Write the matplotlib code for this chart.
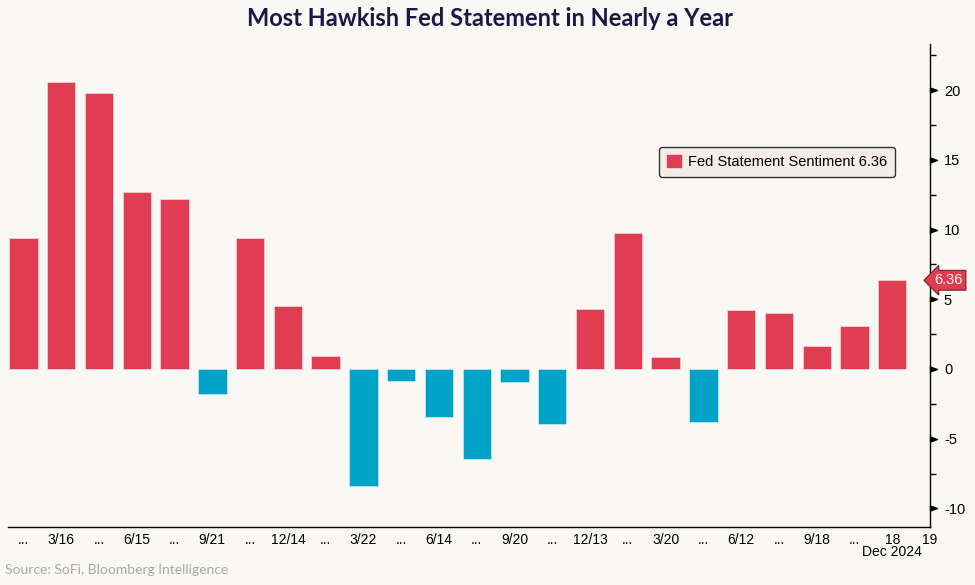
import matplotlib.pyplot as plt
import numpy as np
from matplotlib.patches import Patch
from matplotlib.path import Path

# ── Data ──────────────────────────────────────────────────────────────────────
LABELS = ["...", "3/16", "...", "6/15", "...", "9/21", "...", "12/14",
          "...", "3/22", "...", "6/14", "...", "9/20", "...", "12/13",
          "...", "3/20", "...", "6/12", "...", "9/18", "...", "18", "19"]
SENTIMENT = [9.38, 20.54, 19.80, 12.67, 12.17, -1.82, 9.38, 4.54,
             0.95, -8.37, -0.88, -3.47, -6.43, -0.93, -3.92, 4.33,
             9.76, 0.83, -3.78, 4.25, 4.02, 1.67, 3.06, 6.36]
LAST_VALUE = 6.36
Y_MAJOR = [-10, -5, 0, 5, 10, 15, 20]
Y_MINOR = [-7.5, -2.5, 2.5, 7.5, 12.5, 17.5, 22.5]

# ── Palette ───────────────────────────────────────────────────────────────────
RED = "#e03c52"
BLUE = "#00a3c8"
BG = "#f9f8f5"
TITLE_C = "#1c1846"
SOURCE_C = "#a8a8a8"
TICK_FONT = ["Liberation Sans", "DejaVu Sans"]

fig = plt.figure(figsize=(9.75, 5.85), dpi=100, facecolor=BG)
ax = fig.add_axes([8 / 975, 1 - 527 / 585, 922 / 975, 483 / 585], facecolor=BG)

x = np.arange(len(SENTIMENT))
vals = np.array(SENTIMENT)
colors = [RED if v >= 0 else BLUE for v in vals]
ax.bar(x, vals, width=0.75, color=colors, edgecolor=[(1, 1, 1, 0.5)] * len(vals),
       linewidth=0.6)

ax.set_xlim(-0.41, len(LABELS) - 1)
ax.set_ylim(-11.33, 23.3)

# spines
for s in ("left", "top"):
    ax.spines[s].set_visible(False)
for s in ("right", "bottom"):
    ax.spines[s].set_color("black")
    ax.spines[s].set_linewidth(1.0)

# x ticks: major at odd slots (the "..." ones), minor at the others
ax.set_xticks(np.arange(len(LABELS)), LABELS, fontsize=10, family=TICK_FONT)
ax.tick_params(axis="x", length=0, pad=4)
ax.set_xticks(np.arange(0, len(LABELS), 2), minor=True)
ax.tick_params(axis="x", which="minor", length=4, width=1, direction="inout",
               color="black")
ax.text(23, -0.038, "Dec 2024", transform=ax.get_xaxis_transform(),
        ha="center", va="top", fontsize=10, family=TICK_FONT)

# y ticks on the right with triangle markers for majors
ax.yaxis.tick_right()
ax.set_yticks(Y_MAJOR, [str(v) for v in Y_MAJOR], fontsize=10.5, family=TICK_FONT)
ax.tick_params(axis="y", length=0, pad=10)
ax.set_yticks(Y_MINOR, minor=True)
ax.tick_params(axis="y", which="minor", length=4, width=1, color="black")
tri = Path([(0, -0.35), (1, 0), (0, 0.35), (0, -0.35)],
           [Path.MOVETO, Path.LINETO, Path.LINETO, Path.CLOSEPOLY])
ax.plot(np.ones(len(Y_MAJOR)), Y_MAJOR, transform=ax.get_yaxis_transform(),
        ls="none", marker=tri, ms=10, color="black", clip_on=False)

# last value tag
ax.text(1.005, LAST_VALUE, f"{LAST_VALUE:.2f}", transform=ax.get_yaxis_transform(),
        ha="left", va="center", fontsize=10.5, color="white", family=TICK_FONT,
        bbox=dict(boxstyle="larrow,pad=0.2", fc=RED, ec="#7a1f2b", lw=0.8))

# legend
handle = Patch(facecolor=RED, edgecolor=RED)
leg = ax.legend([handle], [f"Fed Statement Sentiment {LAST_VALUE:.2f}"],
                loc="upper right", bbox_to_anchor=(0.962, 0.787),
                borderaxespad=0, frameon=True, fancybox=True,
                handlelength=0.9, handleheight=0.9, handletextpad=0.5,
                borderpad=0.55, prop={"family": TICK_FONT, "size": 10.5})
leg.get_frame().set_facecolor("#f2eee7")
leg.get_frame().set_edgecolor("#333333")
leg.get_frame().set_linewidth(1.0)
leg.get_frame().set_alpha(1)

fig.text(0.503, 0.968, "Most Hawkish Fed Statement in Nearly a Year",
         ha="center", va="center", fontsize=17, fontweight="bold", color=TITLE_C,
         family=["Lato", "DejaVu Sans"])
fig.text(0.005, 0.025, "Source: SoFi, Bloomberg Intelligence", ha="left",
         va="center", fontsize=10, color=SOURCE_C, family=["Lato", "DejaVu Sans"])

fig.savefig("out.png", dpi=100, facecolor=BG)
